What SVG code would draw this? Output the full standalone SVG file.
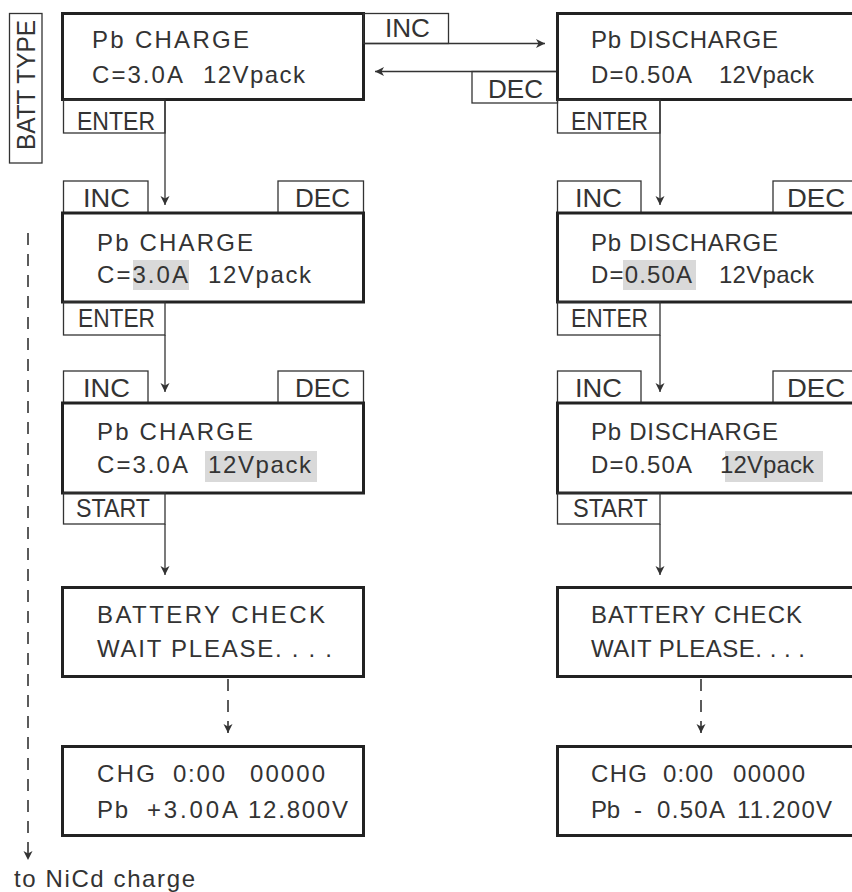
<svg xmlns="http://www.w3.org/2000/svg" width="852" height="892" viewBox="0 0 852 892">
<style>
.box{fill:none;stroke:#222;stroke-width:3}
.lbl{fill:none;stroke:#333;stroke-width:1.3}
.hl{fill:#d9d9d9;stroke:none}
.t{font-family:"Liberation Sans",Arial,sans-serif;font-size:24px;fill:#333;white-space:pre}
.l{font-family:"Liberation Sans",Arial,sans-serif;font-size:25px;fill:#333;white-space:pre}
.c{fill:none;stroke:#333;stroke-width:1.3}
.d{fill:none;stroke:#333;stroke-width:1.6;stroke-dasharray:12 9}
</style>
<defs>
<marker id="ah" markerUnits="userSpaceOnUse" markerWidth="12" markerHeight="12" refX="9" refY="5" orient="auto">
<path d="M0,0.5 L9,5 L0,9.5 L2.5,5 z" fill="#333"/>
</marker>
</defs>
<g id="batt-type">
<rect class="lbl" x="9.5" y="13.5" width="32.5" height="149.5"/>
<text class="l" transform="translate(35,85) rotate(-90)" text-anchor="middle" textLength="130" lengthAdjust="spacingAndGlyphs">BATT TYPE</text>
</g>
<g id="connectors">
<line class="c" x1="165" y1="100" x2="165" y2="205" marker-end="url(#ah)"/>
<line class="c" x1="165" y1="335" x2="165" y2="392" marker-end="url(#ah)"/>
<line class="c" x1="165" y1="524" x2="165" y2="575" marker-end="url(#ah)"/>
<line class="d" x1="228" y1="679" x2="228" y2="733" stroke-dasharray="11 7" marker-end="url(#ah)"/>
<line class="c" x1="660" y1="100" x2="660" y2="205" marker-end="url(#ah)"/>
<line class="c" x1="660" y1="335" x2="660" y2="392" marker-end="url(#ah)"/>
<line class="c" x1="660" y1="524" x2="660" y2="575" marker-end="url(#ah)"/>
<line class="d" x1="701" y1="679" x2="701" y2="733" stroke-dasharray="11 7" marker-end="url(#ah)"/>
<line class="c" x1="363.5" y1="43.5" x2="545" y2="43.5" marker-end="url(#ah)"/>
<line class="c" x1="557.5" y1="71.5" x2="375" y2="71.5" marker-end="url(#ah)"/>
<line class="d" x1="28" y1="233" x2="28" y2="860" stroke-dasharray="14 10" marker-end="url(#ah)"/>
</g>
<g id="pb-charge-1">
<rect class="box" x="62.5" y="13.5" width="301" height="86"/>
<text class="t" x="92" y="48" textLength="157" lengthAdjust="spacing">Pb CHARGE</text>
<text class="t" x="92" y="83" textLength="91" lengthAdjust="spacing">C=3.0A</text>
<text class="t" x="203" y="83" textLength="102" lengthAdjust="spacing">12Vpack</text>
<rect class="lbl" x="63.5" y="100" width="101.5" height="33"/>
<text class="l" x="77" y="130" textLength="78" lengthAdjust="spacingAndGlyphs">ENTER</text>
</g>
<g id="inc-top">
<rect class="lbl" x="363.5" y="13.5" width="85" height="30"/>
<text class="l" x="385" y="37" textLength="45" lengthAdjust="spacingAndGlyphs">INC</text>
</g>
<g id="dec-top">
<rect class="lbl" x="472" y="71.5" width="85.5" height="31.5"/>
<text class="l" x="488" y="98" textLength="55" lengthAdjust="spacingAndGlyphs">DEC</text>
</g>
<g id="pb-discharge-1">
<rect class="box" x="557.5" y="13.5" width="301" height="86"/>
<text class="t" x="591" y="48" textLength="187" lengthAdjust="spacing">Pb DISCHARGE</text>
<text class="t" x="591" y="83" textLength="101" lengthAdjust="spacing">D=0.50A</text>
<text class="t" x="719" y="83" textLength="95" lengthAdjust="spacing">12Vpack</text>
<rect class="lbl" x="557.5" y="100" width="102.5" height="33"/>
<text class="l" x="571" y="130" textLength="77" lengthAdjust="spacingAndGlyphs">ENTER</text>
</g>
<g id="pb-charge-2">
<rect class="lbl" x="63.5" y="181" width="84.5" height="32"/>
<text class="l" x="83" y="207" textLength="47" lengthAdjust="spacingAndGlyphs">INC</text>
<rect class="lbl" x="278" y="181" width="85.5" height="32"/>
<text class="l" x="295" y="207" textLength="55" lengthAdjust="spacingAndGlyphs">DEC</text>
<rect class="hl" x="133" y="260" width="56" height="30"/>
<rect class="box" x="62.5" y="213" width="301" height="89"/>
<text class="t" x="97" y="251" textLength="156" lengthAdjust="spacing">Pb CHARGE</text>
<text class="t" x="97" y="283" textLength="91" lengthAdjust="spacing">C=3.0A</text>
<text class="t" x="208" y="283" textLength="103" lengthAdjust="spacing">12Vpack</text>
<rect class="lbl" x="63.5" y="302" width="101.5" height="33"/>
<text class="l" x="78" y="327" textLength="77" lengthAdjust="spacingAndGlyphs">ENTER</text>
</g>
<g id="pb-discharge-2">
<rect class="lbl" x="557.5" y="181" width="83.5" height="32"/>
<text class="l" x="575" y="207" textLength="47" lengthAdjust="spacingAndGlyphs">INC</text>
<rect class="lbl" x="773" y="181" width="85.5" height="32"/>
<text class="l" x="787" y="207" textLength="58" lengthAdjust="spacingAndGlyphs">DEC</text>
<rect class="hl" x="623" y="260" width="73" height="30"/>
<rect class="box" x="557.5" y="213" width="301" height="89"/>
<text class="t" x="591" y="251" textLength="187" lengthAdjust="spacing">Pb DISCHARGE</text>
<text class="t" x="591" y="283" textLength="101" lengthAdjust="spacing">D=0.50A</text>
<text class="t" x="719" y="283" textLength="95" lengthAdjust="spacing">12Vpack</text>
<rect class="lbl" x="557.5" y="302" width="102.5" height="33"/>
<text class="l" x="571" y="327" textLength="77" lengthAdjust="spacingAndGlyphs">ENTER</text>
</g>
<g id="pb-charge-3">
<rect class="lbl" x="63.5" y="371" width="84.5" height="32"/>
<text class="l" x="83" y="397" textLength="47" lengthAdjust="spacingAndGlyphs">INC</text>
<rect class="lbl" x="278" y="371" width="85.5" height="32"/>
<text class="l" x="295" y="397" textLength="55" lengthAdjust="spacingAndGlyphs">DEC</text>
<rect class="hl" x="205" y="451" width="112" height="31"/>
<rect class="box" x="62.5" y="403" width="301" height="90"/>
<text class="t" x="97" y="440" textLength="156" lengthAdjust="spacing">Pb CHARGE</text>
<text class="t" x="97" y="473" textLength="91" lengthAdjust="spacing">C=3.0A</text>
<text class="t" x="208" y="473" textLength="103" lengthAdjust="spacing">12Vpack</text>
<rect class="lbl" x="63.5" y="493" width="101.5" height="31"/>
<text class="l" x="76" y="517" textLength="74" lengthAdjust="spacingAndGlyphs">START</text>
</g>
<g id="pb-discharge-3">
<rect class="lbl" x="557.5" y="371" width="83.5" height="32"/>
<text class="l" x="575" y="397" textLength="47" lengthAdjust="spacingAndGlyphs">INC</text>
<rect class="lbl" x="773" y="371" width="85.5" height="32"/>
<text class="l" x="787" y="397" textLength="58" lengthAdjust="spacingAndGlyphs">DEC</text>
<rect class="hl" x="725" y="451" width="98" height="31"/>
<rect class="box" x="557.5" y="403" width="301" height="90"/>
<text class="t" x="591" y="440" textLength="187" lengthAdjust="spacing">Pb DISCHARGE</text>
<text class="t" x="591" y="473" textLength="101" lengthAdjust="spacing">D=0.50A</text>
<text class="t" x="720" y="473" textLength="94" lengthAdjust="spacing">12Vpack</text>
<rect class="lbl" x="557.5" y="493" width="102.5" height="31"/>
<text class="l" x="573" y="517" textLength="75" lengthAdjust="spacingAndGlyphs">START</text>
</g>
<g id="battery-check-left">
<rect class="box" x="62.5" y="587.5" width="301" height="89"/>
<text class="t" x="97" y="623" textLength="228" lengthAdjust="spacing">BATTERY CHECK</text>
<text class="t" x="97" y="657" textLength="235" lengthAdjust="spacing">WAIT PLEASE. . . .</text>
</g>
<g id="battery-check-right">
<rect class="box" x="557.5" y="587.5" width="301" height="89"/>
<text class="t" x="591" y="623" textLength="211" lengthAdjust="spacing">BATTERY CHECK</text>
<text class="t" x="591" y="657" textLength="214" lengthAdjust="spacing">WAIT PLEASE. . . .</text>
</g>
<g id="chg-left">
<rect class="box" x="62.5" y="746.5" width="301" height="89"/>
<text class="t" x="97" y="782" textLength="58" lengthAdjust="spacing">CHG</text>
<text class="t" x="173" y="782" textLength="52" lengthAdjust="spacing">0:00</text>
<text class="t" x="250" y="782" textLength="75" lengthAdjust="spacing">00000</text>
<text class="t" x="97" y="818" textLength="31" lengthAdjust="spacing">Pb</text>
<text class="t" x="147" y="818" textLength="91" lengthAdjust="spacing">+3.00A</text>
<text class="t" x="248" y="818" textLength="100" lengthAdjust="spacing">12.800V</text>
</g>
<g id="chg-right">
<rect class="box" x="557.5" y="746.5" width="301" height="89"/>
<text class="t" x="591" y="782" textLength="56" lengthAdjust="spacing">CHG</text>
<text class="t" x="663" y="782" textLength="50" lengthAdjust="spacing">0:00</text>
<text class="t" x="733" y="782" textLength="72" lengthAdjust="spacing">00000</text>
<text class="t" x="591" y="818" textLength="29" lengthAdjust="spacing">Pb</text>
<text class="t" x="634" y="818">-</text>
<text class="t" x="657" y="818" textLength="68" lengthAdjust="spacing">0.50A</text>
<text class="t" x="737" y="818" textLength="95" lengthAdjust="spacing">11.200V</text>
</g>
<g id="to-nicd">
<text class="t" x="14" y="887" textLength="181" lengthAdjust="spacing">to NiCd charge</text>
</g>
</svg>
